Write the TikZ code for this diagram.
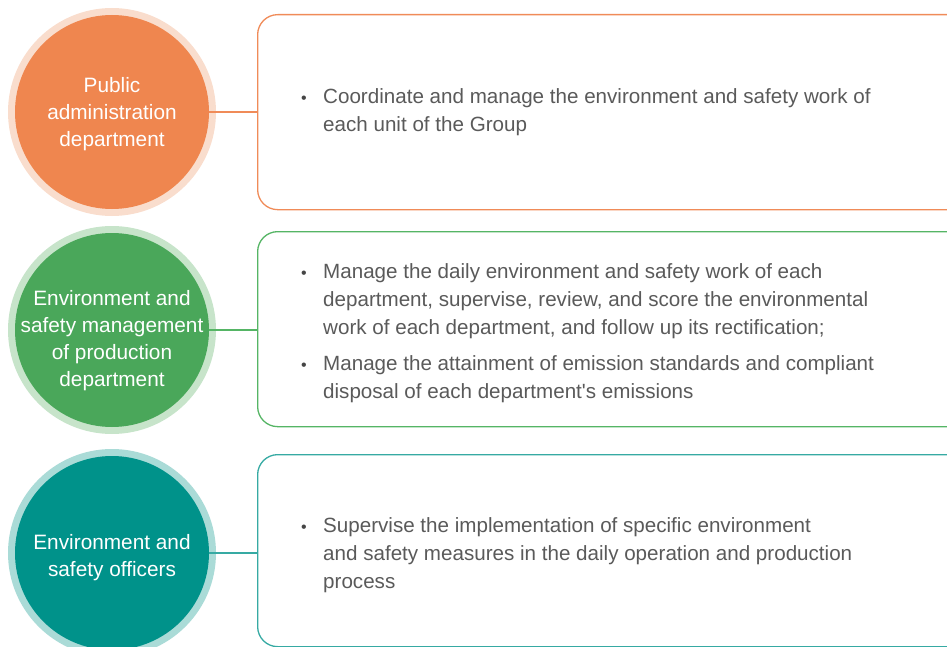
\documentclass[tikz,border=0pt]{standalone}
\usepackage{fontspec}
\setmainfont{Liberation Sans}
\definecolor{orangeC}{HTML}{EF864F}
\definecolor{orangeH}{HTML}{F9DDCD}
\definecolor{orangeL}{HTML}{F08B58}
\definecolor{greenC}{HTML}{4AA75A}
\definecolor{greenH}{HTML}{C7E4CA}
\definecolor{greenL}{HTML}{55B565}
\definecolor{tealC}{HTML}{00928A}
\definecolor{tealH}{HTML}{AADBD7}
\definecolor{tealL}{HTML}{36AAA3}
\definecolor{bodytext}{HTML}{5A5A5A}
\definecolor{dotC}{HTML}{454545}
\tikzset{
  halo/.style={circle, fill=#1, minimum size=208pt, inner sep=0pt},
  disc/.style={circle, fill=#1, minimum size=194pt, inner sep=0pt},
  disctxt/.style={inner sep=0pt, text=white, align=center,
    font=\fontsize{20.8}{27}\selectfont},
  panel/.style={draw=#1, line width=1.3pt, rounded corners=20pt, fill=white,
    minimum width=720pt, anchor=north west, inner sep=0pt},
  link/.style={draw=#1, line width=1.3pt},
  % multi-line text: the base anchor sits on the last line
  bodytxt/.style={anchor=base west, align=left, inner sep=0pt, text=bodytext,
    font=\fontsize{20.6}{28}\selectfont},
  dot/.style={anchor=base, inner sep=0pt, text=dotC, font=\fontsize{16}{16}\selectfont}
}
\begin{document}
\begin{tikzpicture}[x=1pt,y=-1pt]
\useasboundingbox (0,0) rectangle (947,647);
\begin{scope}
\clip (0,0) rectangle (947,647);
% row 1
\node[halo=orangeH] (h1) at (112,112) {};
\node[disc=orangeC] (c1) at (112,112) {};
\node[disctxt] (l1) at (112,114) {Public\\administration\\department};
\node[panel=orangeL, minimum height=195pt] (b1) at (257,14) {};
\draw[link=orangeL] (c1.east) -- (b1.west |- c1.east);
\node[dot] (d1) at (304,104) {•};
\node[bodytxt] (t1) at (323,132) {Coordinate and manage the environment and safety work of\\each unit of the Group};
% row 2
\node[halo=greenH] (h2) at (112,330) {};
\node[disc=greenC] (c2) at (112,330) {};
\node[disctxt] (l2) at (112,341) {Environment and\\safety management\\of production\\department};
\node[panel=greenL, minimum height=195pt] (b2) at (257,231) {};
\draw[link=greenL] (c2.east) -- (b2.west |- c2.east);
\node[dot] (d2) at (304,278) {•};
\node[bodytxt] (t2) at (323,334) {Manage the daily environment and safety work of each\\department, supervise, review, and score the environmental\\work of each department, and follow up its rectification;};
\node[dot] (d3) at (304,370) {•};
\node[bodytxt] (t3) at (323,398) {Manage the attainment of emission standards and compliant\\disposal of each department\textquotesingle s emissions};
% row 3
\node[halo=tealH] (h3) at (112,553) {};
\node[disc=tealC] (c3) at (112,553) {};
\node[disctxt] (l3) at (112,558) {Environment and\\safety officers};
\node[panel=tealL, minimum height=192pt] (b3) at (257,454) {};
\draw[link=tealL] (c3.east) -- (b3.west |- c3.east);
\node[dot] (d4) at (304,532) {•};
\node[bodytxt] (t4) at (323,588) {Supervise the implementation of specific environment\\and safety measures in the daily operation and production\\process};
\end{scope}
\end{tikzpicture}
\end{document}
